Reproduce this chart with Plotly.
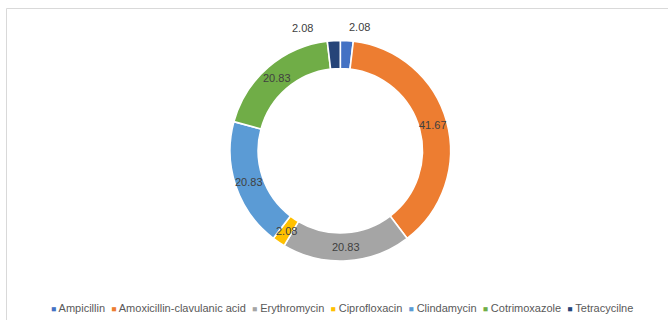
import math
import plotly.graph_objects as go

# Antibiotic resistance shares (%)
drugs = ["Ampicillin", "Amoxicillin-clavulanic acid", "Erythromycin",
         "Ciprofloxacin", "Clindamycin", "Cotrimoxazole", "Tetracycilne"]
values = [2.08, 41.67, 20.83, 2.08, 20.83, 20.83, 2.08]
value_labels = ["2.08", "41.67", "20.83", "2.08", "20.83", "20.83", "2.08"]
colors = ["#4472C4", "#ED7D31", "#A5A5A5", "#FFC000",
          "#5B9BD5", "#70AD47", "#264478"]

W, H = 669, 320
CX, CY = 340.3, 150.7      # ring centre (px)
R_OUT = 110.3              # outer radius (px)
HOLE = 0.745

FONT = "Liberation Sans, Arial, sans-serif"

fig = go.Figure()
fig.add_trace(go.Pie(
    labels=drugs,
    values=values,
    sort=False,
    direction="clockwise",
    rotation=0,
    hole=HOLE,
    textinfo="none",
    hoverinfo="label+value",
    showlegend=False,
    marker=dict(colors=colors, line=dict(color="white", width=1.6)),
    domain=dict(x=[(CX - R_OUT) / W, (CX + R_OUT) / W],
                y=[(H - CY - R_OUT) / H, (H - CY + R_OUT) / H]),
))

# Data labels: centred on the ring, the two thin slices at the top sit outside
ring_r = (R_OUT * (1 + HOLE)) / 2
outside_r = R_OUT + 10
outside_shift = {0: (12, -4), 6: (-31, -3)}   # label index -> (dx, dy) px

total = sum(values)
cum = 0.0
annotations = []
for i, (v, txt) in enumerate(zip(values, value_labels)):
    mid = 2 * math.pi * (cum + v / 2) / total
    cum += v
    r = outside_r if i in outside_shift else ring_r
    dx, dy = outside_shift.get(i, (0, 0))
    px = CX + r * math.sin(mid) + dx
    py = CY - r * math.cos(mid) + dy
    annotations.append(dict(
        x=px / W, y=1 - py / H, xref="paper", yref="paper",
        text=txt, showarrow=False, xanchor="center", yanchor="middle",
        font=dict(family=FONT, size=11, color="#404040"),
    ))

# Legend row: small coloured squares followed by the drug name
legend_parts = []
for name, col in zip(drugs, colors):
    legend_parts.append(
        f'<span style="color:{col};font-size:8.5px">■</span> {name}')
annotations.append(dict(
    x=342 / W, y=1 - 307.5 / H, xref="paper", yref="paper",
    text="&nbsp; ".join(legend_parts), showarrow=False,
    xanchor="center", yanchor="middle",
    font=dict(family=FONT, size=11, color="#595959"),
))

# Chart-area frame (top and left edges visible)
frame = dict(type="line", xref="paper", yref="paper",
             line=dict(color="#D9D9D9", width=1))
shapes = [
    dict(frame, x0=6.5 / W, x1=668 / W, y0=1 - 8.5 / H, y1=1 - 8.5 / H),
    dict(frame, x0=6.5 / W, x1=6.5 / W, y0=1 - 8.5 / H, y1=0),
]

fig.update_layout(
    width=W, height=H,
    margin=dict(l=0, r=0, t=0, b=0),
    paper_bgcolor="white",
    plot_bgcolor="white",
    annotations=annotations,
    shapes=shapes,
)

fig.write_html("out.html")
